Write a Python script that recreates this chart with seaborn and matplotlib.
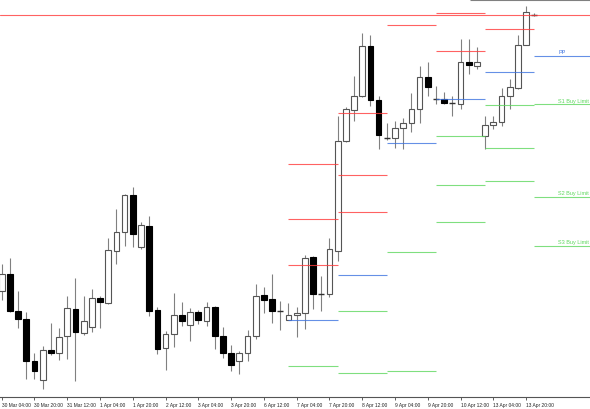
import numpy as np
import pandas as pd
import matplotlib
matplotlib.use("Agg")
import matplotlib.pyplot as plt
import seaborn as sns

# ---- H4 candles (chart points) ----
opens = [108, 125, 88, 80, 38, 19, 49, 46, 63, 90, 66, 72, 101, 96, 148, 167, 204, 152, 173, 89,
         51, 65, 84, 74, 87, 78, 92, 63, 46, 38, 46, 63, 104, 100, 88, 79, 84, 86, 142, 105,
         105, 148, 258, 289, 303, 353, 299, 261, 261, 271, 276, 290, 322, 300, 300, 296, 295, 337, 333, 263,
         274, 277, 303, 311, 354, 384]
highs = [135, 141, 108, 87, 46, 53, 76, 71, 103, 121, 103, 110, 103, 161, 190, 205, 212, 177, 183, 92,
         68, 106, 97, 91, 89, 97, 93, 72, 54, 48, 69, 115, 112, 125, 98, 96, 92, 144, 143, 123,
         161, 283, 292, 323, 366, 364, 303, 276, 278, 281, 306, 333, 337, 313, 307, 303, 360, 360, 352, 283,
         283, 311, 320, 364, 393, 386]
lows = [99, 87, 71, 20, 20, 10, 44, 39, 40, 18, 64, 67, 71, 95, 135, 153, 152, 150, 83, 45,
        29, 52, 73, 58, 75, 73, 50, 41, 28, 25, 38, 60, 86, 76, 69, 79, 62, 70, 90, 88,
        102, 138, 257, 278, 302, 293, 250, 259, 251, 250, 267, 276, 303, 295, 295, 283, 290, 325, 330, 250,
        270, 273, 290, 310, 354, 383]
closes = [125, 88, 80, 38, 28, 49, 46, 62, 91, 67, 78, 101, 97, 149, 167, 204, 165, 174, 88, 50,
          65, 84, 78, 87, 79, 92, 63, 46, 34, 46, 63, 103, 99, 88, 88, 84, 86, 141, 105, 105,
          150, 258, 290, 303, 353, 299, 264, 261, 271, 276, 290, 322, 312, 300, 296, 296, 337, 334, 337, 274,
          277, 303, 312, 354, 387, 384]

tick_labels = ["30 Mar 04:00", "30 Mar 20:00", "31 Mar 12:00", "1 Apr 04:00", "1 Apr 20:00",
               "2 Apr 12:00", "3 Apr 04:00", "3 Apr 20:00", "6 Apr 12:00", "7 Apr 04:00",
               "7 Apr 20:00", "8 Apr 12:00", "9 Apr 04:00", "9 Apr 20:00", "10 Apr 12:00",
               "13 Apr 04:00", "13 Apr 20:00"]

# ---- daily pivot levels (7 Apr .. 14 Apr) ----
nan = np.nan
day_start = [35, 41, 47, 53, 59, 65]
r3 = [235, 286, nan, nan, nan, nan]
r2 = [180, 224, nan, 386, nan, nan]
r1 = [134, 187, 374, 348, 370, nan]
pp = [79, 124, 256, 300, 327, 343]
s1 = [33, 88, 147, 263, 294, 295]
s2 = [nan, 26, 28, 214, 251, 202]
s3 = [nan, nan, nan, 177, 218, 153]
hline_red = 384
hline_gray = 399

RED = "#ff3b3b"
BLUE = "#3f74e0"
GREEN = "#5fd85f"

sns.set_theme(style="white")
plt.rcParams["font.family"] = ["Liberation Sans", "DejaVu Sans"]

fig = plt.figure(figsize=(5.9, 4.1), dpi=100)
ax = fig.add_axes([0, 12 / 410, 1, 398 / 410])

df = pd.DataFrame({"o": opens, "h": highs, "l": lows, "c": closes})
df["x"] = np.arange(len(df))
XMAX = 71.8

# wicks
ax.vlines(df["x"], df["l"], df["h"], color="#808080", lw=0.8, zorder=2)

# bodies
for _, r in df.iterrows():
    lo = min(r.o, r.c)
    hgt = abs(r.c - r.o)
    if hgt < 1:
        ax.hlines(r.o, r.x - 0.35, r.x + 0.35, color="#303030", lw=1.0, zorder=3)
    elif r.c > r.o:
        ax.bar(r.x, hgt, bottom=lo, width=0.7, facecolor="white", edgecolor="#555555",
               linewidth=0.8, zorder=3)
    else:
        ax.bar(r.x, hgt, bottom=lo, width=0.7, facecolor="black", edgecolor="black",
               linewidth=0.8, zorder=3)

# pivot segments
ends = day_start[1:] + [XMAX]
for levels, col in [(r3, RED), (r2, RED), (r1, RED), (pp, BLUE), (s1, GREEN), (s2, GREEN), (s3, GREEN)]:
    for x0, x1, v in zip(day_start, ends, levels):
        if not np.isnan(v):
            ax.hlines(v, x0, x1, color=col, lw=0.8, alpha=0.8, zorder=4)

ax.axhline(hline_red, color=RED, lw=0.8, alpha=0.8, zorder=4)
ax.hlines(hline_gray, 57.2, XMAX, color="#808080", lw=0.8, zorder=4)

# labels for current day
lx = 67.9
ax.text(lx, pp[-1] + 1.5, "PP", color=BLUE, fontsize=4, va="bottom", ha="left")
ax.text(lx, s1[-1] + 1.5, "S1 Buy Limit", color=GREEN, fontsize=4, va="bottom", ha="left")
ax.text(lx, s2[-1] + 1.5, "S2 Buy Limit", color=GREEN, fontsize=4, va="bottom", ha="left")
ax.text(lx, s3[-1] + 1.5, "S3 Buy Limit", color=GREEN, fontsize=4, va="bottom", ha="left")

ax.set_xlim(-0.21, XMAX)
ax.set_ylim(2, 400)
ax.set_yticks([])
ax.set_xticks(np.arange(0, 4 * len(tick_labels), 4))
ax.set_xticklabels(tick_labels, fontsize=3.5, ha="left", color="#222222")
ax.tick_params(axis="x", direction="out", length=2.5, width=0.6, pad=1, color="#444444", bottom=True)

sns.despine(ax=ax, left=True, top=True, right=True)
ax.spines["bottom"].set_color("#555555")
ax.spines["bottom"].set_linewidth(0.8)

fig.savefig("out.png", dpi=100)
